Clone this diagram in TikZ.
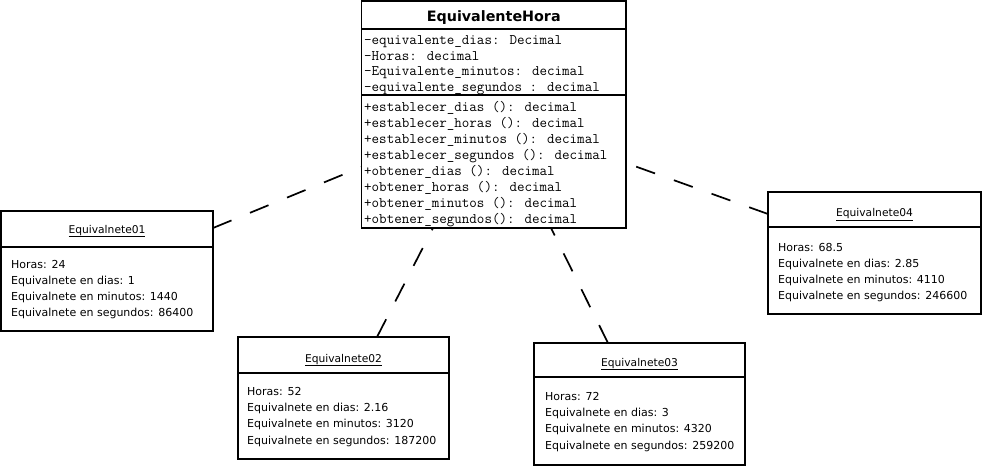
\documentclass[tikz,border=0pt]{standalone}
\usepackage{fontspec}
\setmainfont{DejaVu Sans}
\begin{document}
\begin{tikzpicture}[x=1pt,y=-1pt,
  box/.style={draw=black,line width=1.5pt,inner sep=0pt,outer sep=0pt,fill=white},
  sepline/.style={line width=1.5pt},
  conn/.style={line width=1.7pt,dash pattern=on 20pt off 20pt},
  mono/.style={font=\ttfamily\fontsize{14.6}{16}\selectfont,anchor=base west,inner sep=0pt},
  body/.style={font=\fontsize{11}{16}\selectfont,anchor=base west,inner sep=0pt},
  otitle/.style={font=\fontsize{10.7}{12}\selectfont,anchor=base,inner sep=0pt},
  ctitle/.style={font=\bfseries\fontsize{14.3}{16}\selectfont,anchor=base,inner sep=0pt},
]
\useasboundingbox[fill=white] (0,0) rectangle (983,467);

% boxes
\node[box,minimum width=264.5pt,minimum height=227pt] (cls) at (493.75,114.5) {};
\node[box,minimum width=212pt,minimum height=120pt] (o1) at (107,271) {};
\node[box,minimum width=211pt,minimum height=122pt] (o2) at (343.5,398) {};
\node[box,minimum width=211pt,minimum height=122pt] (o3) at (639.5,404) {};
\node[box,minimum width=213pt,minimum height=122pt] (o4) at (874.5,253) {};

% connectors
\draw[conn] ([yshift=43pt]o1.east) -- ([yshift=-52.5pt]cls.west);
\draw[conn] ([xshift=33.5pt]o2.north) -- ([xshift=-60.75pt]cls.south);
\draw[conn] ([xshift=-31.5pt]o3.north) -- ([xshift=57.25pt]cls.south);
\draw[conn] ([yshift=39pt]o4.west) -- ([yshift=-48.5pt]cls.east);

% class separators
\draw[sepline] (cls.west |- 0,29) -- (cls.east |- 0,29);
\draw[sepline] (cls.west |- 0,95) -- (cls.east |- 0,95);
\node[ctitle] (clst) at (493.75,21.5) {EquivalenteHora};
\node[mono] (a1) at (364,44.5) {-equivalente\_dias: Decimal};
\node[mono] (a2) at (364,60.2) {-Horas: decimal};
\node[mono] (a3) at (364,75.9) {-Equivalente\_minutos: decimal};
\node[mono] (a4) at (364,91.6) {-equivalente\_segundos : decimal};
\node[mono] (m1) at (364,111) {+establecer\_dias (): decimal};
\node[mono] (m2) at (364,127) {+establecer\_horas (): decimal};
\node[mono] (m3) at (364,143) {+establecer\_minutos (): decimal};
\node[mono] (m4) at (364,159) {+establecer\_segundos (): decimal};
\node[mono] (m5) at (364,175.3) {+obtener\_dias (): decimal};
\node[mono] (m6) at (364,191) {+obtener\_horas (): decimal};
\node[mono] (m7) at (364,207) {+obtener\_minutos (): decimal};
\node[mono] (m8) at (364,223) {+obtener\_segundos(): decimal};

% object 01
\draw[sepline] (o1.west |- 0,247) -- (o1.east |- 0,247);
\node[otitle] (o1t) at (107,233) {\underline{Equivalnete01}};
\node[body] (o1a) at (11,268) {Horas: 24};
\node[body] (o1b) at (11,284.2) {Equivalnete en dias: 1};
\node[body] (o1c) at (11,300.4) {Equivalnete en minutos: 1440};
\node[body] (o1d) at (11,316.6) {Equivalnete en segundos: 86400};

% object 02
\draw[sepline] (o2.west |- 0,373) -- (o2.east |- 0,373);
\node[otitle] (o2t) at (343.5,362) {\underline{Equivalnete02}};
\node[body] (o2a) at (247,395.5) {Horas: 52};
\node[body] (o2b) at (247,411.7) {Equivalnete en dias: 2.16};
\node[body] (o2c) at (247,427.9) {Equivalnete en minutos: 3120};
\node[body] (o2d) at (247,444.1) {Equivalnete en segundos: 187200};

% object 03
\draw[sepline] (o3.west |- 0,377) -- (o3.east |- 0,377);
\node[otitle] (o3t) at (639.5,366) {\underline{Equivalnete03}};
\node[body] (o3a) at (545,400.5) {Horas: 72};
\node[body] (o3b) at (545,416.7) {Equivalnete en dias: 3};
\node[body] (o3c) at (545,432.9) {Equivalnete en minutos: 4320};
\node[body] (o3d) at (545,449.1) {Equivalnete en segundos: 259200};

% object 04
\draw[sepline] (o4.west |- 0,227) -- (o4.east |- 0,227);
\node[otitle] (o4t) at (874.5,216.5) {\underline{Equivalnete04}};
\node[body] (o4a) at (778,251) {Horas: 68.5};
\node[body] (o4b) at (778,267.2) {Equivalnete en dias: 2.85};
\node[body] (o4c) at (778,283.4) {Equivalnete en minutos: 4110};
\node[body] (o4d) at (778,299.6) {Equivalnete en segundos: 246600};
\end{tikzpicture}
\end{document}
